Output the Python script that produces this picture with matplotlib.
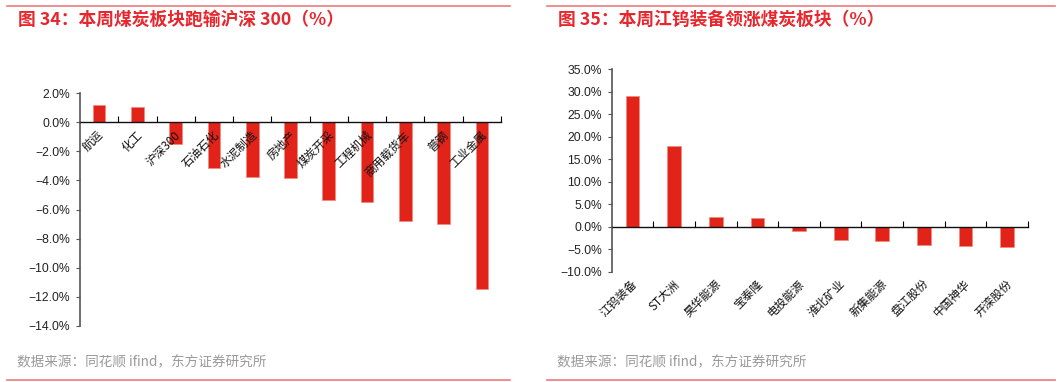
import matplotlib.pyplot as plt
import matplotlib.transforms as mtransforms
import numpy as np
from matplotlib.lines import Line2D
from matplotlib.ticker import FixedLocator, MultipleLocator, PercentFormatter

plt.rcParams['font.family'] = ['Liberation Sans', 'Noto Sans CJK SC', 'DejaVu Sans']

left_cats = ['航运', '化工', '沪深300', '石油石化', '水泥制造', '房地产',
             '煤炭开采', '工程机械', '商用载货车', '普钢', '工业金属']
left_vals = [1.21, 1.03, -1.53, -3.17, -3.79, -3.86, -5.37, -5.48, -6.76, -7.03, -11.48]

right_cats = ['江钨装备', 'ST大洲', '昊华能源', '宝泰隆', '电投能源',
              '淮北矿业', '新集能源', '盘江股份', '中国神华', '开滦股份']
right_vals = [29.0, 17.95, 2.07, 1.93, -0.89, -2.9, -3.1, -4.0, -4.2, -4.4]

left_title = '图 34：本周煤炭板块跑输沪深 300（%）'
right_title = '图 35：本周江钨装备领涨煤炭板块（%）'
source = '数据来源：同花顺 ifind，东方证券研究所'

W, H = 1061, 382
BAR = '#e2231a'
RED = '#e8262d'
LINE = '#ec7b7b'
CJK = ['Noto Sans CJK SC', 'DejaVu Sans']

fig = plt.figure(figsize=(W / 100, H / 100), dpi=100)


def px_axes(x0, x1, ytop, ybot):
    return fig.add_axes([x0 / W, 1 - ybot / H, (x1 - x0) / W, (ybot - ytop) / H])


def bar_panel(ax, cats, vals, ylim, step, label_pad, dx):
    n = len(cats)
    x = np.arange(n)
    ax.bar(x, vals, width=0.33, color=BAR, edgecolor='#f08a7a', linewidth=0.5, zorder=1)
    ax.set_axisbelow(False)
    ax.set_xlim(-0.5, n - 0.5)
    ax.set_ylim(*ylim)
    ax.yaxis.set_major_locator(MultipleLocator(step))
    ax.yaxis.set_major_formatter(PercentFormatter(decimals=1))
    for s in ['top', 'right']:
        ax.spines[s].set_visible(False)
    ax.spines['left'].set_color('#555555')
    ax.spines['left'].set_linewidth(1.2)
    ax.spines['bottom'].set_position(('data', 0))
    ax.spines['bottom'].set_color('#111111')
    ax.spines['bottom'].set_linewidth(1.0)
    ax.tick_params(axis='y', length=3, width=0.8, color='#555555', pad=4,
                   labelsize=8.7, labelcolor='#222222')
    ax.set_xticks(x)
    ax.xaxis.set_minor_locator(FixedLocator(np.arange(0.5, n, 1)))
    ax.tick_params(axis='x', which='minor', direction='in', length=4, width=0.8)
    ax.tick_params(axis='x', which='major', length=0, pad=label_pad)
    ax.set_xticklabels(cats, family=CJK, fontsize=8.4, color='#111111')
    off = mtransforms.ScaledTranslation(dx / 100, 0, fig.dpi_scale_trans)
    for lab in ax.get_xticklabels():
        lab.set_rotation(45)
        lab.set_ha('right')
        lab.set_va('center')
        lab.set_rotation_mode('anchor')
        lab.set_transform(lab.get_transform() + off)


ax1 = px_axes(80, 501, 93, 326)
bar_panel(ax1, left_cats, left_vals, (-14, 2), 2, 8, 3)

ax2 = px_axes(611.7, 1028, 69.3, 271.7)
bar_panel(ax2, right_cats, right_vals, (-10, 35), 5, 40, 3)

# titles, rules and source lines
for x0, x1, title in [(7, 510, left_title), (547, 1055, right_title)]:
    fig.add_artist(Line2D([x0 / W, x1 / W], [1 - 5.5 / H] * 2, color=LINE, lw=1.2))
    fig.add_artist(Line2D([x0 / W, x1 / W], [1 - 379.5 / H] * 2, color=LINE, lw=1.2))
    fig.text((x0 + 11) / W, 1 - 20 / H, title, family=CJK, fontsize=12.8,
             fontweight='bold', color=RED, va='center', ha='left')
    fig.text((x0 + 10) / W, 1 - 362 / H, source, family=CJK, fontsize=9.8,
             color='#9a9a9a', va='center', ha='left')

fig.savefig('out.png', dpi=100)
